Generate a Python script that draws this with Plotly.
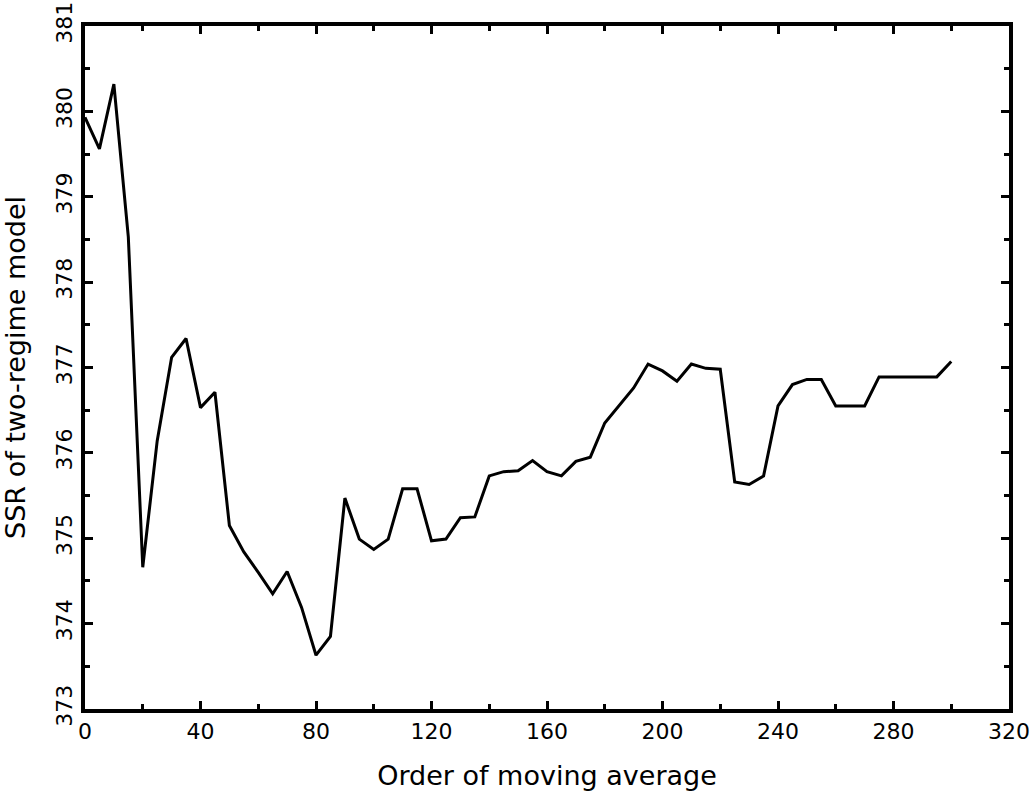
import plotly.graph_objects as go

order = [0, 5, 10, 15, 20, 25, 30, 35, 40, 45, 50, 55, 60, 65, 70, 75, 80, 85, 90, 95,
         100, 105, 110, 115, 120, 125, 130, 135, 140, 145, 150, 155, 160, 165, 170, 175,
         180, 185, 190, 195, 200, 205, 210, 215, 220, 225, 230, 235, 240, 245, 250, 255,
         260, 265, 270, 275, 280, 285, 290, 295, 300]
ssr = [379.93, 379.56, 380.32, 378.53, 374.66, 376.14, 377.12, 377.34, 376.53, 376.71,
       375.15, 374.84, 374.60, 374.35, 374.61, 374.19, 373.63, 373.85, 375.47, 374.99,
       374.87, 374.99, 375.58, 375.58, 374.97, 374.99, 375.24, 375.25, 375.73, 375.78,
       375.79, 375.91, 375.78, 375.73, 375.90, 375.95, 376.35, 376.55, 376.76, 377.04,
       376.96, 376.84, 377.04, 376.99, 376.98, 375.66, 375.63, 375.73, 376.55, 376.80,
       376.86, 376.86, 376.55, 376.55, 376.55, 376.89, 376.89, 376.89, 376.89, 376.89,
       377.07]

x_ticks = [0, 40, 80, 120, 160, 200, 240, 280, 320]
y_ticks = [373, 374, 375, 376, 377, 378, 379, 380, 381]

FONT = "DejaVu Sans"

fig = go.Figure()
fig.add_trace(go.Scatter(x=order, y=ssr, mode="lines",
                         line=dict(color="black", width=3), showlegend=False))

fig.update_layout(
    width=1032, height=791,
    margin=dict(l=85, r=23, t=26, b=82, autoexpand=False),
    paper_bgcolor="white", plot_bgcolor="white",
    font=dict(family=FONT, color="black", size=22),
)
fig.update_xaxes(
    range=[0, 320], tickvals=x_ticks, ticktext=[str(v) for v in x_ticks],
    automargin=False,
    showgrid=False, zeroline=False,
    showline=True, linewidth=3.5, linecolor="black", mirror="ticks",
    ticks="inside", ticklen=8, tickwidth=2.5, tickcolor="black",
    minor=dict(dtick=20, ticks="inside", ticklen=5, tickwidth=2.5, tickcolor="black", showgrid=False),
    tickfont=dict(family=FONT, size=22),
    title=dict(text="Order of moving average", font=dict(family=FONT, size=27), standoff=26),
)
fig.update_yaxes(
    range=[373, 381], tickvals=y_ticks, ticktext=[str(v) for v in y_ticks],
    automargin=False,
    showgrid=False, zeroline=False,
    showline=True, linewidth=3.5, linecolor="black", mirror="ticks",
    ticks="inside", ticklen=8, tickwidth=2.5, tickcolor="black",
    minor=dict(dtick=0.5, ticks="inside", ticklen=5, tickwidth=2.5, tickcolor="black", showgrid=False),
    tickangle=-90,
    tickfont=dict(family=FONT, size=22),
    title=dict(text="SSR of two-regime model", font=dict(family=FONT, size=27), standoff=20),
)

fig.write_html("out.html")
